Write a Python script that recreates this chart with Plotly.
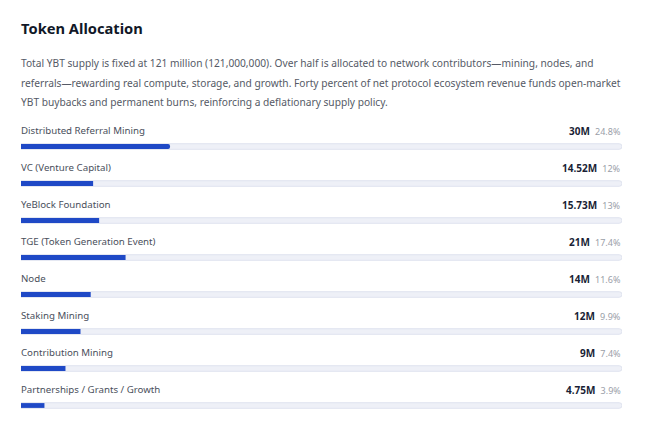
import plotly.graph_objects as go

# Allocation data
categories = ['Distributed Referral Mining', 'VC (Venture Capital)', 'YeBlock Foundation',
              'TGE (Token Generation Event)', 'Node', 'Staking Mining',
              'Contribution Mining', 'Partnerships / Grants / Growth']
amounts = ['30M', '14.52M', '15.73M', '21M', '14M', '12M', '9M', '4.75M']
percents = [24.8, 12, 13, 17.4, 11.6, 9.9, 7.4, 3.9]
pct_labels = ['24.8%', '12%', '13%', '17.4%', '11.6%', '9.9%', '7.4%', '3.9%']

intro_lines = [
    'Total YBT supply is fixed at 121 million (121,000,000). Over half is allocated to network contributors\u2014mining, nodes, and',
    'referrals\u2014rewarding real compute, storage, and growth. Forty percent of net protocol ecosystem revenue funds open-market',
    'YBT buybacks and permanent burns, reinforcing a deflationary supply policy.',
]

FONT = 'Noto Sans'
rows = list(range(len(categories)))

fig = go.Figure()

# background track
fig.add_trace(go.Bar(
    x=[100] * len(rows), y=rows, orientation='h', width=0.15,
    marker=dict(color='#eef0f7', line=dict(color='#dfe3ef', width=1), cornerradius=3),
    hoverinfo='skip', showlegend=False,
))
# filled portion
fig.add_trace(go.Bar(
    x=percents, y=rows, orientation='h', width=0.13,
    marker=dict(color='#1f49c6', line=dict(width=0), cornerradius=3),
    hovertext=categories, showlegend=False,
))

# row labels and values
for i, name in enumerate(categories):
    fig.add_annotation(x=0, xref='paper', y=i, yref='y', yshift=16, xshift=-2,
                       text=name, showarrow=False, xanchor='left', yanchor='middle',
                       font=dict(family=FONT, size=9.7, color='#4a4f5c'))
    fig.add_annotation(x=1, xref='paper', y=i, yref='y', yshift=16, xshift=1,
                       text=f"<b>{amounts[i]}</b>  <span style='color:#9a9ea8;font-size:9px'>{pct_labels[i]}</span>",
                       showarrow=False, xanchor='right', yanchor='middle',
                       font=dict(family=FONT, size=10, color='#1a1f36'))

# heading
fig.add_annotation(x=0, xref='paper', y=1, yref='paper', yshift=100, xshift=-2,
                   text='<b>Token Allocation</b>', showarrow=False,
                   xanchor='left', yanchor='middle',
                   font=dict(family=FONT, size=14.7, color='#111827'))

line_y = [65, 45, 26]
for txt, dy in zip(intro_lines, line_y):
    fig.add_annotation(x=0, xref='paper', y=1, yref='paper', yshift=dy, xshift=-2,
                       text=txt, showarrow=False, xanchor='left', yanchor='middle',
                       font=dict(family=FONT, size=10.2, color='#555a66'))

# page body adds an 8px offset, so the figure is sized to fit the window
fig.update_layout(
    width=639, height=424,
    margin=dict(l=13, r=25, t=120, b=7.5),
    paper_bgcolor='white', plot_bgcolor='white',
    barmode='overlay',
    xaxis=dict(range=[0, 100], visible=False, fixedrange=True),
    yaxis=dict(range=[7.5, -0.5], visible=False, fixedrange=True),
)

fig.write_html('out.html')
